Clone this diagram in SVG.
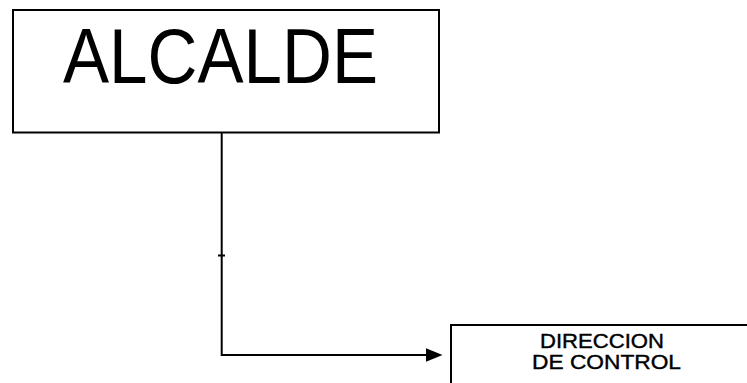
<svg xmlns="http://www.w3.org/2000/svg" width="747" height="383" viewBox="0 0 747 383">
<style>
.box{fill:#fff;stroke:#000;stroke-width:2}
.ln{fill:none;stroke:#000;stroke-width:2}
text{font-family:"Liberation Sans",Arial,sans-serif;fill:#000}
.small{stroke:#000;stroke-width:0.4}
</style>
<rect width="747" height="383" fill="#fff"/>
<g id="connectors">
<path class="ln" d="M221.7,133 V355 H426"/>
<path d="M426,348.3 L442.5,355 L426,361.7 Z" fill="#000"/>
<path class="ln" d="M218,255.5 H225"/>
</g>
<g id="alcalde">
<rect class="box" x="13" y="10" width="426" height="122.5"/>
<text x="63" y="83" font-size="78" textLength="315" lengthAdjust="spacingAndGlyphs">ALCALDE</text>
</g>
<g id="direccion">
<rect class="box" x="451" y="325" width="320" height="80"/>
<text class="small" x="540" y="348" font-size="21" textLength="124" lengthAdjust="spacingAndGlyphs">DIRECCION</text>
<text class="small" x="532" y="369" font-size="21" textLength="149" lengthAdjust="spacingAndGlyphs">DE CONTROL</text>
</g>
</svg>
